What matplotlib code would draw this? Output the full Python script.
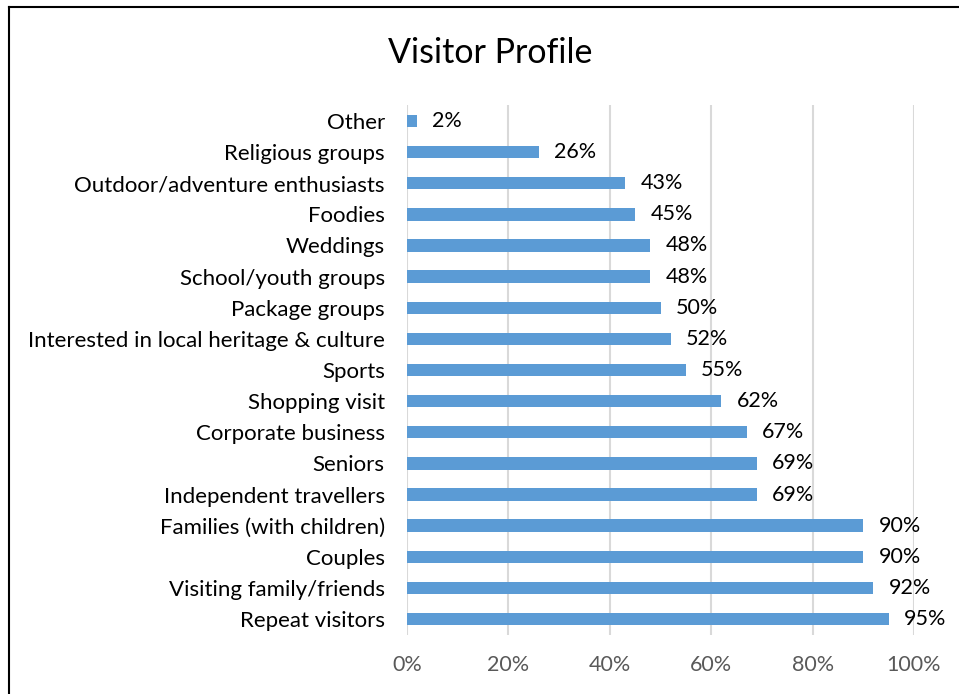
import matplotlib
matplotlib.use("Agg")
import matplotlib.pyplot as plt
from matplotlib.lines import Line2D

plt.rcParams['font.family'] = ['Lato', 'DejaVu Sans']

categories = [
    "Repeat visitors", "Visiting family/friends", "Couples",
    "Families (with children)", "Independent travellers", "Seniors",
    "Corporate business", "Shopping visit", "Sports",
    "Interested in local heritage & culture", "Package groups",
    "School/youth groups", "Weddings", "Foodies",
    "Outdoor/adventure enthusiasts", "Religious groups", "Other",
]
values = [95, 92, 90, 90, 69, 69, 67, 62, 55, 52, 50, 48, 48, 45, 43, 26, 2]
x_ticks = [0, 20, 40, 60, 80, 100]
x_tick_labels = ["0%", "20%", "40%", "60%", "80%", "100%"]
title = "Visitor Profile"

W, H = 959, 694
fig = plt.figure(figsize=(W / 100, H / 100), dpi=100)
fig.patch.set_facecolor("white")

ax = fig.add_axes([407 / W, 1 - 634.6 / H, 507 / W, 529.2 / H])
ypos = list(range(len(categories)))
bars = ax.barh(ypos, values, height=0.4, color="#5B9BD5", zorder=3)
ax.bar_label(bars, labels=[f"{v}%" for v in values], padding=11,
             fontsize=15.5, color="#000000")

ax.set_xlim(0, 100)
ax.set_ylim(-0.5, len(categories) - 0.5)
ax.set_yticks(ypos)
ax.set_yticklabels(categories, fontsize=16, color="#000000")
ax.set_xticks(x_ticks)
ax.set_xticklabels(x_tick_labels, fontsize=15.5, color="#595959")
ax.tick_params(axis="y", length=0, pad=16)
ax.tick_params(axis="x", length=0, pad=15)
ax.grid(axis="x", color="#D9D9D9", linewidth=1.5, zorder=0)
for s in ax.spines.values():
    s.set_visible(False)

fig.text(490 / W, 1 - 53 / H, title, fontsize=24.5, ha="center", va="center",
         color="#000000")

# chart frame (left and top edges)
fig.add_artist(Line2D([9 / W, 9 / W], [0, 1 - 6.5 / H], transform=fig.transFigure,
                      color="black", linewidth=1.5))
fig.add_artist(Line2D([9 / W, 1], [1 - 6.5 / H, 1 - 6.5 / H], transform=fig.transFigure,
                      color="black", linewidth=1.5))

fig.savefig("out.png", dpi=100)
